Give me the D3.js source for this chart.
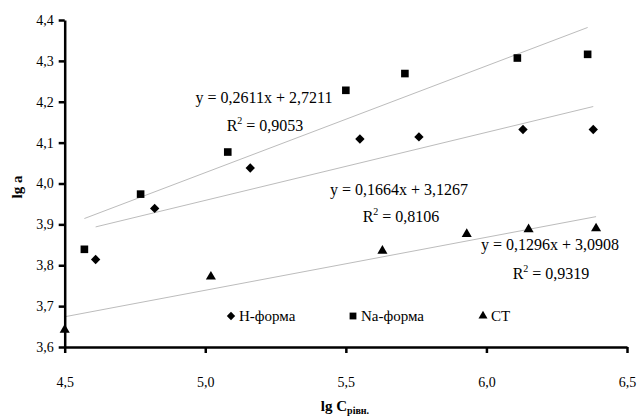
<!DOCTYPE html>
<html>
<head>
<meta charset="utf-8">
<script src="https://cdn.jsdelivr.net/npm/d3@7"></script>
<style>
  body { margin: 0; background: #fff; }
</style>
</head>
<body>
<div id="chart"></div>
<script>
// data
var hX  = [4.61, 4.82, 5.16, 5.55, 5.76, 6.13, 6.38];
var hY  = [3.814, 3.939, 4.038, 4.109, 4.114, 4.132, 4.132];
var naX = [4.57, 4.77, 5.08, 5.50, 5.71, 6.11, 6.36];
var naY = [3.839, 3.974, 4.077, 4.228, 4.269, 4.307, 4.316];
var ctX = [4.50, 5.02, 5.63, 5.93, 6.15, 6.39];
var ctY = [3.642, 3.772, 3.835, 3.876, 3.888, 3.890];

// trend lines: slope, intercept, R2
var seriesNames = ["H-форма", "Na-форма", "CT"];
var slopes = [0.1664, 0.2611, 0.1296];
var intercepts = [3.1267, 2.7211, 3.0908];
var r2 = ["0,8106", "0,9053", "0,9319"];
var eqText = ["y = 0,1664x + 3,1267", "y = 0,2611x + 2,7211", "y = 0,1296x + 3,0908"];

var xTicks = [4.5, 5.0, 5.5, 6.0, 6.5];
var yTicks = [3.6, 3.7, 3.8, 3.9, 4.0, 4.1, 4.2, 4.3, 4.4];

var FONT = "'Liberation Serif', 'Times New Roman', serif";
var width = 639, height = 417;
var svg = d3.select("#chart").append("svg").attr("width", width).attr("height", height)
  .attr("font-family", FONT);

var x = d3.scaleLinear().domain([4.5, 6.5]).range([64.7, 627]);
var y = d3.scaleLinear().domain([3.6, 4.4]).range([347, 20]);

var fmt = function(d) { return d3.format(".1f")(d).replace(".", ","); };

var series = [
  {xs: hX, ys: hY, sym: d3.symbolDiamond2, size: 56},
  {xs: naX, ys: naY, sym: d3.symbolSquare, size: 58},
  {xs: ctX, ys: ctY, sym: d3.symbolTriangle, size: 44}
];

// trend lines
series.forEach(function(s, i) {
  var x0 = d3.min(s.xs), x1 = d3.max(s.xs);
  svg.append("line")
    .attr("x1", x(x0)).attr("y1", y(slopes[i] * x0 + intercepts[i]))
    .attr("x2", x(x1)).attr("y2", y(slopes[i] * x1 + intercepts[i]))
    .attr("stroke", "#bcbcbc").attr("stroke-width", 1);
});

// axes
var yAxis = svg.append("g").attr("transform", "translate(" + x(4.5) + ",0)")
  .call(d3.axisLeft(y).tickValues(yTicks).tickFormat(fmt).tickSize(6).tickSizeOuter(0).tickPadding(5));
var xAxis = svg.append("g").attr("transform", "translate(0," + y(3.6) + ")")
  .call(d3.axisBottom(x).tickValues(xTicks).tickFormat(fmt).tickSize(6).tickSizeOuter(0).tickPadding(34));

[yAxis, xAxis].forEach(function(a) {
  a.attr("font-family", FONT).attr("font-size", 14);
  a.select(".domain").attr("stroke", "#000").attr("stroke-width", 2.5);
  a.selectAll(".tick line").attr("stroke", "#000").attr("stroke-width", 2.5);
  a.selectAll(".tick text").style("font-family", FONT).style("font-size", "14px").attr("fill", "#000");
});
xAxis.selectAll(".tick text").attr("dy", "0");

// points
series.forEach(function(s) {
  svg.append("g").selectAll("path").data(s.xs).join("path")
    .attr("transform", function(d, j) { return "translate(" + x(d) + "," + y(s.ys[j]) + ")"; })
    .attr("d", d3.symbol().type(s.sym).size(s.size))
    .attr("fill", "#000");
});

// equation labels
var eqPos = [[399, 195, 401, 222], [264, 103, 265, 131], [550, 250, 551, 279]];
eqText.forEach(function(t, i) {
  svg.append("text").attr("x", eqPos[i][0]).attr("y", eqPos[i][1])
    .attr("text-anchor", "middle").style("font-family", FONT).style("font-size", "16px").text(t);
  var r = svg.append("text").attr("x", eqPos[i][2]).attr("y", eqPos[i][3])
    .attr("text-anchor", "middle").style("font-family", FONT).style("font-size", "16px");
  r.append("tspan").text("R");
  r.append("tspan").attr("dy", -7).style("font-size", "10px").text("2");
  r.append("tspan").attr("dy", 7).text(" = " + r2[i]);
});

// legend
var legX = [231, 353, 483];
series.forEach(function(s, i) {
  var g = svg.append("g").attr("transform", "translate(" + legX[i] + ",316)");
  g.append("path").attr("d", d3.symbol().type(s.sym).size(s.size * 0.8)).attr("fill", "#000");
  g.append("text").attr("x", 8).attr("y", 5).style("font-family", FONT).style("font-size", "15px").text(seriesNames[i]);
});

// axis titles
var xt = svg.append("text").attr("x", 345).attr("y", 411).attr("text-anchor", "middle")
  .style("font-family", FONT).style("font-size", "15px").style("font-weight", "bold");
xt.append("tspan").text("lg C");
xt.append("tspan").attr("dy", 3).style("font-size", "10px").text("рівн.");

svg.append("text").attr("transform", "translate(22,187) rotate(-90)")
  .attr("text-anchor", "middle").style("font-family", FONT).style("font-size", "15px").style("font-weight", "bold").text("lg a");
</script>
</body>
</html>
